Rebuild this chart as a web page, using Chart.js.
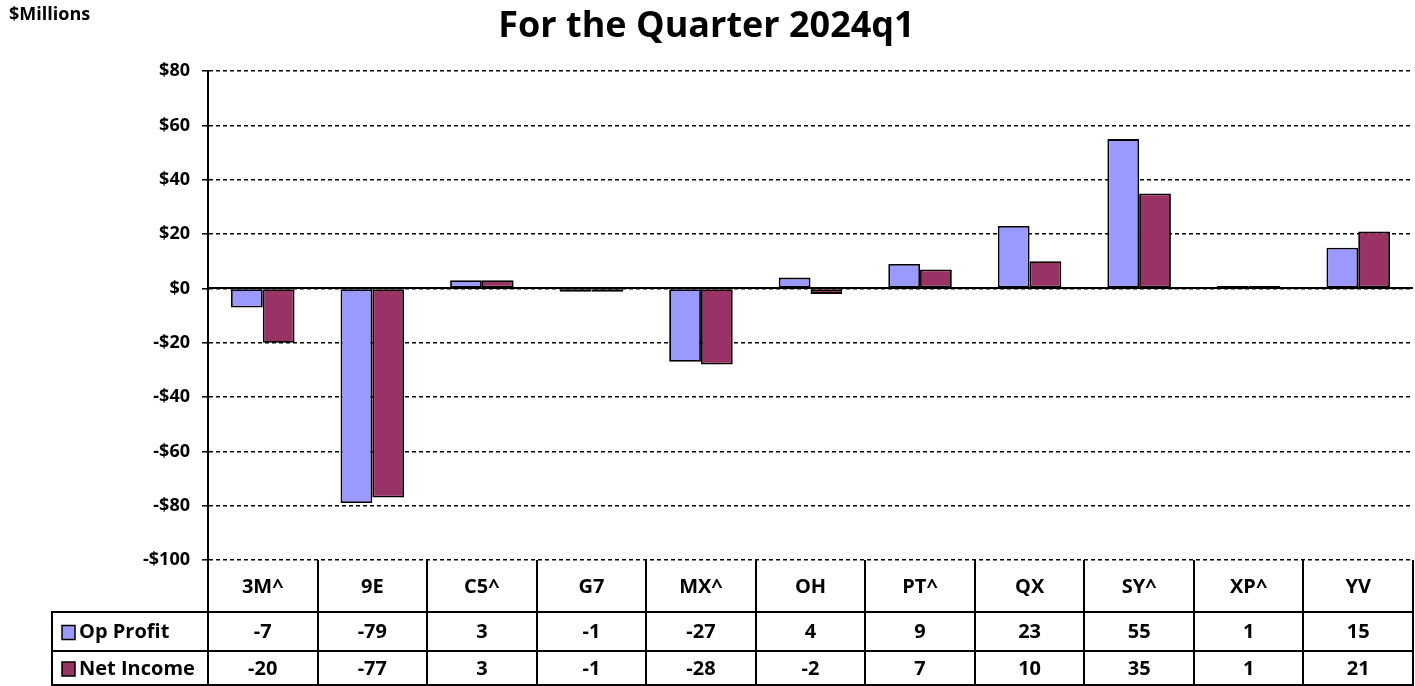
<!DOCTYPE html>
<html>
<head>
<meta charset="utf-8">
<script src="https://cdn.jsdelivr.net/npm/chart.js@4.4.1/dist/chart.umd.min.js"></script>
<style>
  html, body { margin: 0; padding: 0; background: #ffffff; }
  #wrap { width: 1415px; height: 686px; position: relative; }
</style>
</head>
<body>
<div id="wrap"><canvas id="c" width="1415" height="686"></canvas></div>
<script>
const titleText = 'For the Quarter 2024q1';
const unitText = '$Millions';
const categories = ['3M^', '9E', 'C5^', 'G7', 'MX^', 'OH', 'PT^', 'QX', 'SY^', 'XP^', 'YV'];
const seriesNames = ['Op Profit', 'Net Income'];
const opProfit = [-7, -79, 3, -1.2, -27, 4, 9, 23, 55, 0.9, 15];
const netIncome = [-20, -77, 3, -1.2, -28, -2, 7, 10, 35, 0.9, 21];
const yTicks = [80, 60, 40, 20, 0, -20, -40, -60, -80, -100];

const FONT = '"Open Sans", Lato, "DejaVu Sans", sans-serif';
const colors = ['#9999FF', '#993366'];

const tablePlugin = {
  id: 'dataTable',
  beforeDatasetsDraw(chart) {
    const ctx = chart.ctx, y = chart.scales.y, a = chart.chartArea;
    const y0 = Math.round(y.getPixelForValue(0));
    ctx.save();
    ctx.strokeStyle = '#000'; ctx.lineWidth = 2;
    ctx.beginPath(); ctx.moveTo(a.left, y0); ctx.lineTo(a.right, y0); ctx.stroke();
    ctx.restore();
  },
  afterDraw(chart) {
    const ctx = chart.ctx, x = chart.scales.x, a = chart.chartArea;
    const n = categories.length;
    const w = (a.right - a.left) / n;
    const top = a.bottom;
    const r1 = top + 52, r2 = r1 + 39, r3 = chart.height - 1;
    const leftCol = 52;
    ctx.save();
    ctx.strokeStyle = '#000';
    ctx.lineWidth = 2;
    for (let i = 0; i <= n; i++) {
      const xx = Math.round(a.left + i * w);
      ctx.beginPath(); ctx.moveTo(xx, top); ctx.lineTo(xx, r3 + 1); ctx.stroke();
    }
    ctx.beginPath(); ctx.moveTo(leftCol, r1); ctx.lineTo(leftCol, r3 + 1); ctx.stroke();
    [r1, r2, r3].forEach(ry => {
      ctx.beginPath(); ctx.moveTo(leftCol - 1, Math.round(ry)); ctx.lineTo(a.right + 1, Math.round(ry)); ctx.stroke();
    });
    ctx.fillStyle = '#000';
    ctx.textAlign = 'center'; ctx.textBaseline = 'middle';
    ctx.font = 'bold 20px ' + FONT;
    categories.forEach((c, i) => {
      ctx.fillText(c, x.getPixelForValue(i), (top + r1) / 2 + 1);
    });
    const rows = [[opProfit, r1, r2], [netIncome, r2, r3]];
    rows.forEach(([vals, ya, yb], k) => {
      const cy = (ya + yb) / 2 + 1;
      vals.forEach((v, i) => {
        ctx.fillText(String(Math.round(v)), x.getPixelForValue(i), cy);
      });
      ctx.fillStyle = colors[k];
      ctx.fillRect(62, cy - 7, 13, 14);
      ctx.lineWidth = 1.5;
      ctx.strokeStyle = '#000';
      ctx.strokeRect(62, cy - 7, 13, 14);
      ctx.fillStyle = '#000';
      ctx.textAlign = 'left';
      ctx.fillText(seriesNames[k], 79, cy);
      ctx.textAlign = 'center';
    });
    ctx.font = 'bold 18px ' + FONT;
    ctx.textAlign = 'left'; ctx.textBaseline = 'middle';
    ctx.fillText(unitText, 9, 15);
    ctx.restore();
  }
};

new Chart(document.getElementById('c'), {
  type: 'bar',
  data: {
    labels: categories,
    datasets: [
      { label: seriesNames[0], data: opProfit, backgroundColor: colors[0], borderColor: '#000', borderWidth: 1.8, borderSkipped: false },
      { label: seriesNames[1], data: netIncome, backgroundColor: colors[1], borderColor: '#000', borderWidth: 1.8, borderSkipped: false }
    ]
  },
  options: {
    responsive: false,
    animation: false,
    layout: { padding: { left: 0, right: 2, top: 0, bottom: 126 } },
    datasets: { bar: { categoryPercentage: 0.58, barPercentage: 1.0 } },
    plugins: {
      legend: { display: false },
      tooltip: { enabled: false },
      title: {
        display: true, text: titleText, color: '#000',
        font: { family: FONT, size: 36, weight: 'bold', lineHeight: 1.2 },
        padding: { top: 5, bottom: 23 }
      }
    },
    scales: {
      x: { display: false },
      y: {
        min: -100, max: 80,
        afterBuildTicks(scale) { scale.ticks = yTicks.map(v => ({ value: v })); },
        afterFit(scale) { scale.width = 208; },
        ticks: {
          color: '#000', padding: 12,
          font: { family: FONT, size: 18, weight: 'bold' },
          callback: v => (v < 0 ? '-$' : '$') + Math.abs(v)
        },
        grid: { color: '#000', lineWidth: 1.6, tickLength: 6, drawTicks: true, tickBorderDash: [], tickWidth: 1.5 },
        border: { display: true, color: '#000', width: 2, dash: [4, 3] }
      }
    }
  },
  plugins: [tablePlugin]
});
</script>
</body>
</html>
